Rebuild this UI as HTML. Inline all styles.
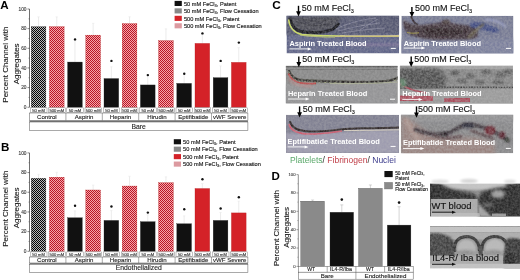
<!DOCTYPE html><html><head><meta charset="utf-8"><style>html,body{margin:0;padding:0;background:#fff;width:520px;height:280px;overflow:hidden}svg{display:block}#w{will-change:transform}</style></head><body>
<div id="w"><svg width="520" height="280" viewBox="0 0 520 280">
<defs>
<pattern id="hk" patternUnits="userSpaceOnUse" width="2" height="2"><rect width="2" height="2" fill="#b8b8b8"/><rect width="1" height="1" fill="#050505"/><rect x="1" y="1" width="1" height="1" fill="#050505"/></pattern>
<pattern id="hr" patternUnits="userSpaceOnUse" width="2" height="2"><rect width="2" height="2" fill="#f7a4a8"/><rect width="1" height="1" fill="#b81626"/><rect x="1" y="1" width="1" height="1" fill="#b81626"/></pattern>
<filter id="b05" x="-20%" y="-20%" width="140%" height="140%"><feGaussianBlur stdDeviation="0.5"/></filter>
<filter id="b07" x="-20%" y="-20%" width="140%" height="140%"><feGaussianBlur stdDeviation="0.7"/></filter>
<filter id="b1" x="-20%" y="-20%" width="140%" height="140%"><feGaussianBlur stdDeviation="1"/></filter>
<filter id="b15" x="-20%" y="-20%" width="140%" height="140%"><feGaussianBlur stdDeviation="1.5"/></filter>
<filter id="b2" x="-20%" y="-50%" width="140%" height="200%"><feGaussianBlur stdDeviation="2"/></filter>
<filter id="noise" x="0" y="0" width="100%" height="100%"><feTurbulence type="fractalNoise" baseFrequency="0.45" numOctaves="2" seed="3"/><feColorMatrix type="matrix" values="0 0 0 0 0.5  0 0 0 0 0.5  0 0 0 0 0.5  2 0 0 0 -0.5"/></filter>
</defs>
<rect width="520" height="280" fill="#fff"/>
<text x="0.3" y="8.9" font-size="11.6" font-weight="bold" font-family="Liberation Sans, sans-serif">A</text>
<text transform="translate(8.4,64.65) rotate(-90)" text-anchor="middle" font-size="8" fill="#1a1a1a" font-family="Liberation Sans, sans-serif" stroke="#1a1a1a" stroke-width="0.12">Percent Channel with</text>
<text transform="translate(18.7,63.85) rotate(-90)" text-anchor="middle" font-size="8" fill="#1a1a1a" font-family="Liberation Sans, sans-serif" stroke="#1a1a1a" stroke-width="0.12">Aggregates</text>
<line x1="29.5" y1="9.0" x2="29.5" y2="107.25" stroke="#333" stroke-width="0.7"/>
<line x1="27.5" y1="107.25" x2="29.5" y2="107.25" stroke="#333" stroke-width="0.6"/>
<text x="26.5" y="108.85" text-anchor="end" font-size="4.8" fill="#3a3a3a" font-family="Liberation Sans, sans-serif" stroke="#3a3a3a" stroke-width="0.12">0</text>
<line x1="28.5" y1="97.42" x2="29.5" y2="97.42" stroke="#444" stroke-width="0.5"/>
<line x1="27.5" y1="87.60" x2="29.5" y2="87.60" stroke="#333" stroke-width="0.6"/>
<text x="26.5" y="89.20" text-anchor="end" font-size="4.8" fill="#3a3a3a" font-family="Liberation Sans, sans-serif" stroke="#3a3a3a" stroke-width="0.12">20</text>
<line x1="28.5" y1="77.78" x2="29.5" y2="77.78" stroke="#444" stroke-width="0.5"/>
<line x1="27.5" y1="67.95" x2="29.5" y2="67.95" stroke="#333" stroke-width="0.6"/>
<text x="26.5" y="69.55" text-anchor="end" font-size="4.8" fill="#3a3a3a" font-family="Liberation Sans, sans-serif" stroke="#3a3a3a" stroke-width="0.12">40</text>
<line x1="28.5" y1="58.12" x2="29.5" y2="58.12" stroke="#444" stroke-width="0.5"/>
<line x1="27.5" y1="48.30" x2="29.5" y2="48.30" stroke="#333" stroke-width="0.6"/>
<text x="26.5" y="49.90" text-anchor="end" font-size="4.8" fill="#3a3a3a" font-family="Liberation Sans, sans-serif" stroke="#3a3a3a" stroke-width="0.12">60</text>
<line x1="28.5" y1="38.47" x2="29.5" y2="38.47" stroke="#444" stroke-width="0.5"/>
<line x1="27.5" y1="28.65" x2="29.5" y2="28.65" stroke="#333" stroke-width="0.6"/>
<text x="26.5" y="30.25" text-anchor="end" font-size="4.8" fill="#3a3a3a" font-family="Liberation Sans, sans-serif" stroke="#3a3a3a" stroke-width="0.12">80</text>
<line x1="28.5" y1="18.83" x2="29.5" y2="18.83" stroke="#444" stroke-width="0.5"/>
<line x1="27.5" y1="9.00" x2="29.5" y2="9.00" stroke="#333" stroke-width="0.6"/>
<text x="26.5" y="10.60" text-anchor="end" font-size="4.8" fill="#3a3a3a" font-family="Liberation Sans, sans-serif" stroke="#3a3a3a" stroke-width="0.12">100</text>
<line x1="38.55" y1="16.86" x2="38.55" y2="26.69" stroke="#d8d8d8" stroke-width="0.5"/>
<line x1="37.35" y1="16.86" x2="39.75" y2="16.86" stroke="#e4e4e4" stroke-width="0.5"/>
<rect x="31.20" y="26.69" width="14.7" height="80.56" fill="url(#hk)" stroke="#222" stroke-width="0.3"/>
<line x1="56.75" y1="16.86" x2="56.75" y2="26.69" stroke="#d8d8d8" stroke-width="0.5"/>
<line x1="55.55" y1="16.86" x2="57.95" y2="16.86" stroke="#e4e4e4" stroke-width="0.5"/>
<rect x="49.40" y="26.69" width="14.7" height="80.56" fill="url(#hr)" stroke="#b01818" stroke-width="0.3"/>
<line x1="74.95" y1="40.44" x2="74.95" y2="62.05" stroke="#d8d8d8" stroke-width="0.5"/>
<line x1="73.75" y1="40.44" x2="76.15" y2="40.44" stroke="#e4e4e4" stroke-width="0.5"/>
<rect x="67.60" y="62.05" width="14.7" height="45.20" fill="#111" stroke="#222" stroke-width="0.3"/>
<circle cx="75.05" cy="39.40" r="1.2" fill="#111"/>
<line x1="93.15" y1="23.34" x2="93.15" y2="35.13" stroke="#d8d8d8" stroke-width="0.5"/>
<line x1="91.95" y1="23.34" x2="94.35" y2="23.34" stroke="#e4e4e4" stroke-width="0.5"/>
<rect x="85.80" y="35.13" width="14.7" height="72.12" fill="url(#hr)" stroke="#b01818" stroke-width="0.3"/>
<line x1="111.35" y1="66.77" x2="111.35" y2="78.56" stroke="#d8d8d8" stroke-width="0.5"/>
<line x1="110.15" y1="66.77" x2="112.55" y2="66.77" stroke="#e4e4e4" stroke-width="0.5"/>
<rect x="104.00" y="78.56" width="14.7" height="28.69" fill="#111" stroke="#222" stroke-width="0.3"/>
<circle cx="111.45" cy="60.90" r="1.2" fill="#111"/>
<line x1="129.55" y1="16.76" x2="129.55" y2="23.64" stroke="#d8d8d8" stroke-width="0.5"/>
<line x1="128.35" y1="16.76" x2="130.75" y2="16.76" stroke="#e4e4e4" stroke-width="0.5"/>
<rect x="122.20" y="23.64" width="14.7" height="83.61" fill="url(#hr)" stroke="#b01818" stroke-width="0.3"/>
<line x1="147.75" y1="75.12" x2="147.75" y2="84.95" stroke="#d8d8d8" stroke-width="0.5"/>
<line x1="146.55" y1="75.12" x2="148.95" y2="75.12" stroke="#e4e4e4" stroke-width="0.5"/>
<rect x="140.40" y="84.95" width="14.7" height="22.30" fill="#111" stroke="#222" stroke-width="0.3"/>
<circle cx="147.85" cy="75.10" r="1.2" fill="#111"/>
<line x1="165.95" y1="28.85" x2="165.95" y2="40.64" stroke="#d8d8d8" stroke-width="0.5"/>
<line x1="164.75" y1="28.85" x2="167.15" y2="28.85" stroke="#e4e4e4" stroke-width="0.5"/>
<rect x="158.60" y="40.64" width="14.7" height="66.61" fill="url(#hr)" stroke="#b01818" stroke-width="0.3"/>
<line x1="184.15" y1="74.53" x2="184.15" y2="83.38" stroke="#d8d8d8" stroke-width="0.5"/>
<line x1="182.95" y1="74.53" x2="185.35" y2="74.53" stroke="#e4e4e4" stroke-width="0.5"/>
<rect x="176.80" y="83.38" width="14.7" height="23.87" fill="#111" stroke="#222" stroke-width="0.3"/>
<circle cx="184.25" cy="73.70" r="1.2" fill="#111"/>
<line x1="202.35" y1="33.56" x2="202.35" y2="43.39" stroke="#d8d8d8" stroke-width="0.5"/>
<line x1="201.15" y1="33.56" x2="203.55" y2="33.56" stroke="#e4e4e4" stroke-width="0.5"/>
<rect x="195.00" y="43.39" width="14.7" height="63.86" fill="#d42228" stroke="#b01818" stroke-width="0.3"/>
<circle cx="202.45" cy="33.40" r="1.2" fill="#111"/>
<line x1="220.55" y1="65.89" x2="220.55" y2="77.68" stroke="#d8d8d8" stroke-width="0.5"/>
<line x1="219.35" y1="65.89" x2="221.75" y2="65.89" stroke="#e4e4e4" stroke-width="0.5"/>
<rect x="213.20" y="77.68" width="14.7" height="29.57" fill="#111" stroke="#222" stroke-width="0.3"/>
<circle cx="220.65" cy="60.90" r="1.2" fill="#111"/>
<line x1="238.75" y1="47.61" x2="238.75" y2="62.35" stroke="#d8d8d8" stroke-width="0.5"/>
<line x1="237.55" y1="47.61" x2="239.95" y2="47.61" stroke="#e4e4e4" stroke-width="0.5"/>
<rect x="231.40" y="62.35" width="14.7" height="44.90" fill="#d42228" stroke="#b01818" stroke-width="0.3"/>
<circle cx="238.85" cy="42.60" r="1.2" fill="#111"/>
<rect x="30.40" y="107.85" width="16.60" height="4.75" fill="#fff" stroke="#666" stroke-width="0.4"/>
<text x="38.60" y="111.55" text-anchor="middle" font-size="4.1" fill="#333" font-family="Liberation Sans, sans-serif" stroke="#333" stroke-width="0.12">50 mM</text>
<rect x="48.60" y="107.85" width="16.60" height="4.75" fill="#fff" stroke="#666" stroke-width="0.4"/>
<text x="56.80" y="111.55" text-anchor="middle" font-size="4.1" fill="#333" font-family="Liberation Sans, sans-serif" stroke="#333" stroke-width="0.12">500 mM</text>
<rect x="66.80" y="107.85" width="16.60" height="4.75" fill="#fff" stroke="#666" stroke-width="0.4"/>
<text x="75.00" y="111.55" text-anchor="middle" font-size="4.1" fill="#333" font-family="Liberation Sans, sans-serif" stroke="#333" stroke-width="0.12">50 mM</text>
<rect x="85.00" y="107.85" width="16.60" height="4.75" fill="#fff" stroke="#666" stroke-width="0.4"/>
<text x="93.20" y="111.55" text-anchor="middle" font-size="4.1" fill="#333" font-family="Liberation Sans, sans-serif" stroke="#333" stroke-width="0.12">500 mM</text>
<rect x="103.20" y="107.85" width="16.60" height="4.75" fill="#fff" stroke="#666" stroke-width="0.4"/>
<text x="111.40" y="111.55" text-anchor="middle" font-size="4.1" fill="#333" font-family="Liberation Sans, sans-serif" stroke="#333" stroke-width="0.12">50 mM</text>
<rect x="121.40" y="107.85" width="16.60" height="4.75" fill="#fff" stroke="#666" stroke-width="0.4"/>
<text x="129.60" y="111.55" text-anchor="middle" font-size="4.1" fill="#333" font-family="Liberation Sans, sans-serif" stroke="#333" stroke-width="0.12">500 mM</text>
<rect x="139.60" y="107.85" width="16.60" height="4.75" fill="#fff" stroke="#666" stroke-width="0.4"/>
<text x="147.80" y="111.55" text-anchor="middle" font-size="4.1" fill="#333" font-family="Liberation Sans, sans-serif" stroke="#333" stroke-width="0.12">50 mM</text>
<rect x="157.80" y="107.85" width="16.60" height="4.75" fill="#fff" stroke="#666" stroke-width="0.4"/>
<text x="166.00" y="111.55" text-anchor="middle" font-size="4.1" fill="#333" font-family="Liberation Sans, sans-serif" stroke="#333" stroke-width="0.12">500 mM</text>
<rect x="176.00" y="107.85" width="16.60" height="4.75" fill="#fff" stroke="#666" stroke-width="0.4"/>
<text x="184.20" y="111.55" text-anchor="middle" font-size="4.1" fill="#333" font-family="Liberation Sans, sans-serif" stroke="#333" stroke-width="0.12">50 mM</text>
<rect x="194.20" y="107.85" width="16.60" height="4.75" fill="#fff" stroke="#666" stroke-width="0.4"/>
<text x="202.40" y="111.55" text-anchor="middle" font-size="4.1" fill="#333" font-family="Liberation Sans, sans-serif" stroke="#333" stroke-width="0.12">500 mM</text>
<rect x="212.40" y="107.85" width="16.60" height="4.75" fill="#fff" stroke="#666" stroke-width="0.4"/>
<text x="220.60" y="111.55" text-anchor="middle" font-size="4.1" fill="#333" font-family="Liberation Sans, sans-serif" stroke="#333" stroke-width="0.12">50 mM</text>
<rect x="230.60" y="107.85" width="16.60" height="4.75" fill="#fff" stroke="#666" stroke-width="0.4"/>
<text x="238.80" y="111.55" text-anchor="middle" font-size="4.1" fill="#333" font-family="Liberation Sans, sans-serif" stroke="#333" stroke-width="0.12">500 mM</text>
<rect x="29.5" y="113.0" width="218.40" height="7.60" fill="#fff" stroke="#555" stroke-width="0.5"/>
<text x="46.90" y="118.9" text-anchor="middle" font-size="6.1" fill="#1e1e1e" font-family="Liberation Sans, sans-serif" stroke="#1e1e1e" stroke-width="0.12">Control</text>
<line x1="65.90" y1="113.0" x2="65.90" y2="120.6" stroke="#555" stroke-width="0.5"/>
<text x="84.10" y="118.9" text-anchor="middle" font-size="6.1" fill="#1e1e1e" font-family="Liberation Sans, sans-serif" stroke="#1e1e1e" stroke-width="0.12">Aspirin</text>
<line x1="102.30" y1="113.0" x2="102.30" y2="120.6" stroke="#555" stroke-width="0.5"/>
<text x="120.50" y="118.9" text-anchor="middle" font-size="6.1" fill="#1e1e1e" font-family="Liberation Sans, sans-serif" stroke="#1e1e1e" stroke-width="0.12">Heparin</text>
<line x1="138.70" y1="113.0" x2="138.70" y2="120.6" stroke="#555" stroke-width="0.5"/>
<text x="156.90" y="118.9" text-anchor="middle" font-size="6.1" fill="#1e1e1e" font-family="Liberation Sans, sans-serif" stroke="#1e1e1e" stroke-width="0.12">Hirudin</text>
<line x1="175.10" y1="113.0" x2="175.10" y2="120.6" stroke="#555" stroke-width="0.5"/>
<text x="193.30" y="118.9" text-anchor="middle" font-size="6.1" fill="#1e1e1e" font-family="Liberation Sans, sans-serif" stroke="#1e1e1e" stroke-width="0.12">Eptifibatide</text>
<line x1="211.50" y1="113.0" x2="211.50" y2="120.6" stroke="#555" stroke-width="0.5"/>
<text x="229.70" y="118.9" text-anchor="middle" font-size="6.1" fill="#1e1e1e" font-family="Liberation Sans, sans-serif" stroke="#1e1e1e" stroke-width="0.12">vWF Severe</text>
<rect x="29.5" y="120.6" width="218.40" height="1.40" fill="#7a7a7a"/>
<rect x="29.5" y="122.0" width="218.40" height="8.40" fill="#fff" stroke="#555" stroke-width="0.5"/>
<text x="138.70" y="128.6" text-anchor="middle" font-size="6.8" fill="#1e1e1e" font-family="Liberation Sans, sans-serif" stroke="#1e1e1e" stroke-width="0.12">Bare</text>
<rect x="174.6" y="0.90" width="7.2" height="5.1" fill="#111"/>
<text x="183.90" y="5.70" font-size="5.65" fill="#1a1a1a" stroke="#1a1a1a" stroke-width="0.15" font-family="Liberation Sans, sans-serif">50 mM FeCl<tspan font-size="4" dy="1">3</tspan><tspan dy="-1">, Patent</tspan></text>
<rect x="174.6" y="8.35" width="7.2" height="5.1" fill="#888"/>
<text x="183.90" y="13.15" font-size="5.65" fill="#1a1a1a" stroke="#1a1a1a" stroke-width="0.15" font-family="Liberation Sans, sans-serif">50 mM FeCl<tspan font-size="4" dy="1">3</tspan><tspan dy="-1">, Flow Cessation</tspan></text>
<rect x="174.6" y="15.80" width="7.2" height="5.1" fill="#d42228"/>
<text x="183.90" y="20.60" font-size="5.65" fill="#1a1a1a" stroke="#1a1a1a" stroke-width="0.15" font-family="Liberation Sans, sans-serif">500 mM FeCl<tspan font-size="4" dy="1">3</tspan><tspan dy="-1">, Patent</tspan></text>
<rect x="174.6" y="23.25" width="7.2" height="5.1" fill="#dc9aa0"/>
<text x="183.90" y="28.05" font-size="5.65" fill="#1a1a1a" stroke="#1a1a1a" stroke-width="0.15" font-family="Liberation Sans, sans-serif">500 mM FeCl<tspan font-size="4" dy="1">3</tspan><tspan dy="-1">, Flow Cessation</tspan></text>
<text x="0.9" y="151.4" font-size="11.6" font-weight="bold" font-family="Liberation Sans, sans-serif">B</text>
<text transform="translate(8.4,208.70) rotate(-90)" text-anchor="middle" font-size="8" fill="#1a1a1a" font-family="Liberation Sans, sans-serif" stroke="#1a1a1a" stroke-width="0.12">Percent Channel with</text>
<text transform="translate(18.7,207.90) rotate(-90)" text-anchor="middle" font-size="8" fill="#1a1a1a" font-family="Liberation Sans, sans-serif" stroke="#1a1a1a" stroke-width="0.12">Aggregates</text>
<line x1="29.5" y1="152.9" x2="29.5" y2="251.3" stroke="#333" stroke-width="0.7"/>
<line x1="27.5" y1="251.30" x2="29.5" y2="251.30" stroke="#333" stroke-width="0.6"/>
<text x="26.5" y="252.90" text-anchor="end" font-size="4.8" fill="#3a3a3a" font-family="Liberation Sans, sans-serif" stroke="#3a3a3a" stroke-width="0.12">0</text>
<line x1="28.5" y1="241.46" x2="29.5" y2="241.46" stroke="#444" stroke-width="0.5"/>
<line x1="27.5" y1="231.62" x2="29.5" y2="231.62" stroke="#333" stroke-width="0.6"/>
<text x="26.5" y="233.22" text-anchor="end" font-size="4.8" fill="#3a3a3a" font-family="Liberation Sans, sans-serif" stroke="#3a3a3a" stroke-width="0.12">20</text>
<line x1="28.5" y1="221.78" x2="29.5" y2="221.78" stroke="#444" stroke-width="0.5"/>
<line x1="27.5" y1="211.94" x2="29.5" y2="211.94" stroke="#333" stroke-width="0.6"/>
<text x="26.5" y="213.54" text-anchor="end" font-size="4.8" fill="#3a3a3a" font-family="Liberation Sans, sans-serif" stroke="#3a3a3a" stroke-width="0.12">40</text>
<line x1="28.5" y1="202.10" x2="29.5" y2="202.10" stroke="#444" stroke-width="0.5"/>
<line x1="27.5" y1="192.26" x2="29.5" y2="192.26" stroke="#333" stroke-width="0.6"/>
<text x="26.5" y="193.86" text-anchor="end" font-size="4.8" fill="#3a3a3a" font-family="Liberation Sans, sans-serif" stroke="#3a3a3a" stroke-width="0.12">60</text>
<line x1="28.5" y1="182.42" x2="29.5" y2="182.42" stroke="#444" stroke-width="0.5"/>
<line x1="27.5" y1="172.58" x2="29.5" y2="172.58" stroke="#333" stroke-width="0.6"/>
<text x="26.5" y="174.18" text-anchor="end" font-size="4.8" fill="#3a3a3a" font-family="Liberation Sans, sans-serif" stroke="#3a3a3a" stroke-width="0.12">80</text>
<line x1="28.5" y1="162.74" x2="29.5" y2="162.74" stroke="#444" stroke-width="0.5"/>
<line x1="27.5" y1="152.90" x2="29.5" y2="152.90" stroke="#333" stroke-width="0.6"/>
<text x="26.5" y="154.50" text-anchor="end" font-size="4.8" fill="#3a3a3a" font-family="Liberation Sans, sans-serif" stroke="#3a3a3a" stroke-width="0.12">100</text>
<line x1="38.55" y1="174.35" x2="38.55" y2="178.29" stroke="#d8d8d8" stroke-width="0.5"/>
<line x1="37.35" y1="174.35" x2="39.75" y2="174.35" stroke="#e4e4e4" stroke-width="0.5"/>
<rect x="31.20" y="178.29" width="14.7" height="73.01" fill="url(#hk)" stroke="#222" stroke-width="0.3"/>
<line x1="56.75" y1="172.28" x2="56.75" y2="177.20" stroke="#d8d8d8" stroke-width="0.5"/>
<line x1="55.55" y1="172.28" x2="57.95" y2="172.28" stroke="#e4e4e4" stroke-width="0.5"/>
<rect x="49.40" y="177.20" width="14.7" height="74.10" fill="url(#hr)" stroke="#b01818" stroke-width="0.3"/>
<line x1="74.95" y1="210.86" x2="74.95" y2="217.75" stroke="#d8d8d8" stroke-width="0.5"/>
<line x1="73.75" y1="210.86" x2="76.15" y2="210.86" stroke="#e4e4e4" stroke-width="0.5"/>
<rect x="67.60" y="217.75" width="14.7" height="33.55" fill="#111" stroke="#222" stroke-width="0.3"/>
<circle cx="75.05" cy="205.70" r="1.2" fill="#111"/>
<line x1="93.15" y1="185.08" x2="93.15" y2="190.00" stroke="#d8d8d8" stroke-width="0.5"/>
<line x1="91.95" y1="185.08" x2="94.35" y2="185.08" stroke="#e4e4e4" stroke-width="0.5"/>
<rect x="85.80" y="190.00" width="14.7" height="61.30" fill="url(#hr)" stroke="#b01818" stroke-width="0.3"/>
<line x1="111.35" y1="210.56" x2="111.35" y2="220.40" stroke="#d8d8d8" stroke-width="0.5"/>
<line x1="110.15" y1="210.56" x2="112.55" y2="210.56" stroke="#e4e4e4" stroke-width="0.5"/>
<rect x="104.00" y="220.40" width="14.7" height="30.90" fill="#111" stroke="#222" stroke-width="0.3"/>
<circle cx="111.45" cy="206.50" r="1.2" fill="#111"/>
<line x1="129.55" y1="176.22" x2="129.55" y2="186.06" stroke="#d8d8d8" stroke-width="0.5"/>
<line x1="128.35" y1="176.22" x2="130.75" y2="176.22" stroke="#e4e4e4" stroke-width="0.5"/>
<rect x="122.20" y="186.06" width="14.7" height="65.24" fill="url(#hr)" stroke="#b01818" stroke-width="0.3"/>
<line x1="147.75" y1="214.79" x2="147.75" y2="221.68" stroke="#d8d8d8" stroke-width="0.5"/>
<line x1="146.55" y1="214.79" x2="148.95" y2="214.79" stroke="#e4e4e4" stroke-width="0.5"/>
<rect x="140.40" y="221.68" width="14.7" height="29.62" fill="#111" stroke="#222" stroke-width="0.3"/>
<circle cx="147.85" cy="212.60" r="1.2" fill="#111"/>
<line x1="165.95" y1="176.81" x2="165.95" y2="182.72" stroke="#d8d8d8" stroke-width="0.5"/>
<line x1="164.75" y1="176.81" x2="167.15" y2="176.81" stroke="#e4e4e4" stroke-width="0.5"/>
<rect x="158.60" y="182.72" width="14.7" height="68.58" fill="url(#hr)" stroke="#b01818" stroke-width="0.3"/>
<line x1="184.15" y1="215.88" x2="184.15" y2="223.75" stroke="#d8d8d8" stroke-width="0.5"/>
<line x1="182.95" y1="215.88" x2="185.35" y2="215.88" stroke="#e4e4e4" stroke-width="0.5"/>
<rect x="176.80" y="223.75" width="14.7" height="27.55" fill="#111" stroke="#222" stroke-width="0.3"/>
<circle cx="184.25" cy="209.20" r="1.2" fill="#111"/>
<line x1="202.35" y1="183.60" x2="202.35" y2="188.52" stroke="#d8d8d8" stroke-width="0.5"/>
<line x1="201.15" y1="183.60" x2="203.55" y2="183.60" stroke="#e4e4e4" stroke-width="0.5"/>
<rect x="195.00" y="188.52" width="14.7" height="62.78" fill="#d42228" stroke="#b01818" stroke-width="0.3"/>
<circle cx="202.45" cy="179.30" r="1.2" fill="#111"/>
<line x1="220.55" y1="212.53" x2="220.55" y2="220.40" stroke="#d8d8d8" stroke-width="0.5"/>
<line x1="219.35" y1="212.53" x2="221.75" y2="212.53" stroke="#e4e4e4" stroke-width="0.5"/>
<rect x="213.20" y="220.40" width="14.7" height="30.90" fill="#111" stroke="#222" stroke-width="0.3"/>
<circle cx="220.65" cy="208.50" r="1.2" fill="#111"/>
<line x1="238.75" y1="201.12" x2="238.75" y2="212.92" stroke="#d8d8d8" stroke-width="0.5"/>
<line x1="237.55" y1="201.12" x2="239.95" y2="201.12" stroke="#e4e4e4" stroke-width="0.5"/>
<rect x="231.40" y="212.92" width="14.7" height="38.38" fill="#d42228" stroke="#b01818" stroke-width="0.3"/>
<circle cx="238.85" cy="197.30" r="1.2" fill="#111"/>
<rect x="30.40" y="251.90" width="16.60" height="4.70" fill="#fff" stroke="#666" stroke-width="0.4"/>
<text x="38.60" y="255.55" text-anchor="middle" font-size="4.1" fill="#333" font-family="Liberation Sans, sans-serif" stroke="#333" stroke-width="0.12">50 mM</text>
<rect x="48.60" y="251.90" width="16.60" height="4.70" fill="#fff" stroke="#666" stroke-width="0.4"/>
<text x="56.80" y="255.55" text-anchor="middle" font-size="4.1" fill="#333" font-family="Liberation Sans, sans-serif" stroke="#333" stroke-width="0.12">500 mM</text>
<rect x="66.80" y="251.90" width="16.60" height="4.70" fill="#fff" stroke="#666" stroke-width="0.4"/>
<text x="75.00" y="255.55" text-anchor="middle" font-size="4.1" fill="#333" font-family="Liberation Sans, sans-serif" stroke="#333" stroke-width="0.12">50 mM</text>
<rect x="85.00" y="251.90" width="16.60" height="4.70" fill="#fff" stroke="#666" stroke-width="0.4"/>
<text x="93.20" y="255.55" text-anchor="middle" font-size="4.1" fill="#333" font-family="Liberation Sans, sans-serif" stroke="#333" stroke-width="0.12">500 mM</text>
<rect x="103.20" y="251.90" width="16.60" height="4.70" fill="#fff" stroke="#666" stroke-width="0.4"/>
<text x="111.40" y="255.55" text-anchor="middle" font-size="4.1" fill="#333" font-family="Liberation Sans, sans-serif" stroke="#333" stroke-width="0.12">50 mM</text>
<rect x="121.40" y="251.90" width="16.60" height="4.70" fill="#fff" stroke="#666" stroke-width="0.4"/>
<text x="129.60" y="255.55" text-anchor="middle" font-size="4.1" fill="#333" font-family="Liberation Sans, sans-serif" stroke="#333" stroke-width="0.12">500 mM</text>
<rect x="139.60" y="251.90" width="16.60" height="4.70" fill="#fff" stroke="#666" stroke-width="0.4"/>
<text x="147.80" y="255.55" text-anchor="middle" font-size="4.1" fill="#333" font-family="Liberation Sans, sans-serif" stroke="#333" stroke-width="0.12">50 mM</text>
<rect x="157.80" y="251.90" width="16.60" height="4.70" fill="#fff" stroke="#666" stroke-width="0.4"/>
<text x="166.00" y="255.55" text-anchor="middle" font-size="4.1" fill="#333" font-family="Liberation Sans, sans-serif" stroke="#333" stroke-width="0.12">500 mM</text>
<rect x="176.00" y="251.90" width="16.60" height="4.70" fill="#fff" stroke="#666" stroke-width="0.4"/>
<text x="184.20" y="255.55" text-anchor="middle" font-size="4.1" fill="#333" font-family="Liberation Sans, sans-serif" stroke="#333" stroke-width="0.12">50 mM</text>
<rect x="194.20" y="251.90" width="16.60" height="4.70" fill="#fff" stroke="#666" stroke-width="0.4"/>
<text x="202.40" y="255.55" text-anchor="middle" font-size="4.1" fill="#333" font-family="Liberation Sans, sans-serif" stroke="#333" stroke-width="0.12">500 mM</text>
<rect x="212.40" y="251.90" width="16.60" height="4.70" fill="#fff" stroke="#666" stroke-width="0.4"/>
<text x="220.60" y="255.55" text-anchor="middle" font-size="4.1" fill="#333" font-family="Liberation Sans, sans-serif" stroke="#333" stroke-width="0.12">50 mM</text>
<rect x="230.60" y="251.90" width="16.60" height="4.70" fill="#fff" stroke="#666" stroke-width="0.4"/>
<text x="238.80" y="255.55" text-anchor="middle" font-size="4.1" fill="#333" font-family="Liberation Sans, sans-serif" stroke="#333" stroke-width="0.12">500 mM</text>
<rect x="29.5" y="257.0" width="218.40" height="6.00" fill="#fff" stroke="#555" stroke-width="0.5"/>
<text x="46.90" y="262.2" text-anchor="middle" font-size="6.1" fill="#1e1e1e" font-family="Liberation Sans, sans-serif" stroke="#1e1e1e" stroke-width="0.12">Control</text>
<line x1="65.90" y1="257.0" x2="65.90" y2="263.0" stroke="#555" stroke-width="0.5"/>
<text x="84.10" y="262.2" text-anchor="middle" font-size="6.1" fill="#1e1e1e" font-family="Liberation Sans, sans-serif" stroke="#1e1e1e" stroke-width="0.12">Aspirin</text>
<line x1="102.30" y1="257.0" x2="102.30" y2="263.0" stroke="#555" stroke-width="0.5"/>
<text x="120.50" y="262.2" text-anchor="middle" font-size="6.1" fill="#1e1e1e" font-family="Liberation Sans, sans-serif" stroke="#1e1e1e" stroke-width="0.12">Heparin</text>
<line x1="138.70" y1="257.0" x2="138.70" y2="263.0" stroke="#555" stroke-width="0.5"/>
<text x="156.90" y="262.2" text-anchor="middle" font-size="6.1" fill="#1e1e1e" font-family="Liberation Sans, sans-serif" stroke="#1e1e1e" stroke-width="0.12">Hirudin</text>
<line x1="175.10" y1="257.0" x2="175.10" y2="263.0" stroke="#555" stroke-width="0.5"/>
<text x="193.30" y="262.2" text-anchor="middle" font-size="6.1" fill="#1e1e1e" font-family="Liberation Sans, sans-serif" stroke="#1e1e1e" stroke-width="0.12">Eptifibatide</text>
<line x1="211.50" y1="257.0" x2="211.50" y2="263.0" stroke="#555" stroke-width="0.5"/>
<text x="229.70" y="262.2" text-anchor="middle" font-size="6.1" fill="#1e1e1e" font-family="Liberation Sans, sans-serif" stroke="#1e1e1e" stroke-width="0.12">vWF Severe</text>
<rect x="29.5" y="263.0" width="218.40" height="1.40" fill="#7a7a7a"/>
<rect x="29.5" y="264.4" width="218.40" height="7.90" fill="#fff" stroke="#555" stroke-width="0.5"/>
<text x="138.70" y="270.2" text-anchor="middle" font-size="6.8" fill="#1e1e1e" font-family="Liberation Sans, sans-serif" stroke="#1e1e1e" stroke-width="0.12">Endothelialized</text>
<rect x="173.8" y="139.20" width="7.2" height="5.1" fill="#111"/>
<text x="183.10" y="144.00" font-size="5.65" fill="#1a1a1a" stroke="#1a1a1a" stroke-width="0.15" font-family="Liberation Sans, sans-serif">50 mM FeCl<tspan font-size="4" dy="1">3</tspan><tspan dy="-1">, Patent</tspan></text>
<rect x="173.8" y="146.65" width="7.2" height="5.1" fill="#888"/>
<text x="183.10" y="151.45" font-size="5.65" fill="#1a1a1a" stroke="#1a1a1a" stroke-width="0.15" font-family="Liberation Sans, sans-serif">50 mM FeCl<tspan font-size="4" dy="1">3</tspan><tspan dy="-1">, Flow Cessation</tspan></text>
<rect x="173.8" y="154.10" width="7.2" height="5.1" fill="#d42228"/>
<text x="183.10" y="158.90" font-size="5.65" fill="#1a1a1a" stroke="#1a1a1a" stroke-width="0.15" font-family="Liberation Sans, sans-serif">500 mM FeCl<tspan font-size="4" dy="1">3</tspan><tspan dy="-1">, Patent</tspan></text>
<rect x="173.8" y="161.55" width="7.2" height="5.1" fill="#dc9aa0"/>
<text x="183.10" y="166.35" font-size="5.65" fill="#1a1a1a" stroke="#1a1a1a" stroke-width="0.15" font-family="Liberation Sans, sans-serif">500 mM FeCl<tspan font-size="4" dy="1">3</tspan><tspan dy="-1">, Flow Cessation</tspan></text>
<text x="272.2" y="9.2" font-size="11.8" font-weight="bold" font-family="Liberation Sans, sans-serif">C</text>
<clipPath id="c1l"><rect x="286.5" y="15.8" width="112.60" height="37.60"/></clipPath>
<g clip-path="url(#c1l)">
<rect x="286.5" y="15.8" width="112.60000000000002" height="37.599999999999994" fill="#5e6388"/>
<path d="M283.5,12.8 L402.1,12.8 L402.1,34 C370,34.5 340,35 320,35 L283.5,35 Z" fill="#535770" filter="url(#b1)"/>
<path d="M290,17 C291,24 294,29 301,31 C311,32.5 324,32 332,29 C337,26 340,21 341,16 Z" fill="#4a4a52" filter="url(#b15)"/>
<path d="M289.8,17.5 C290.8,24 294,29.5 301,31.6 C311,33 324,32.6 332,29.6 C335,28 337,26 339,23" fill="none" stroke="#16161c" stroke-width="3" filter="url(#b07)"/>
<path d="M296,21 C305,26 318,27 330,23 M300,18 C310,22 320,22 332,19" fill="none" stroke="#3a3a42" stroke-width="1" filter="url(#b05)"/>
<path d="M336,29 C346,24 358,20 376,18 M338,31 C350,28 362,25 380,23 M342,33 C355,31 368,29 385,28 M360,30 C366,26 372,22 378,19" fill="none" stroke="#8c8ca4" stroke-width="0.7" filter="url(#b05)"/>
<path d="M288.6,19.5 C289.4,27 293.5,32.8 302,34.6 C315,36.2 330,36 345,36" fill="none" stroke="#cede62" stroke-width="1.5" filter="url(#b05)"/>
<path d="M335,36.2 C360,36.4 380,36.4 400,36.2" fill="none" stroke="#ccc272" stroke-width="2.6" filter="url(#b07)"/>
<path d="M340,35.8 C360,36 380,36 400,35.6" fill="none" stroke="#d8cc8c" stroke-width="1.2" filter="url(#b05)"/>
<path d="M300,35 C310,36.5 325,37 335,37" fill="none" stroke="#b8c070" stroke-width="1.2" filter="url(#b07)"/>
<rect x="345" y="43.4" width="55" height="2.5" fill="#8a7aa0" opacity="0.7" filter="url(#b1)"/>
<rect x="286.5" y="15.8" width="112.60000000000002" height="37.599999999999994" filter="url(#noise)" opacity="0.3"/>
<text x="289.4" y="45.6" font-size="7.45" font-weight="bold" fill="#fff" font-family="Liberation Sans, sans-serif">Aspirin Treated Blood</text>
<line x1="289.4" y1="48.9" x2="308.8" y2="48.9" stroke="#fff" stroke-width="0.9"/>
<path d="M307.8,47.4 L311.8,48.9 L307.8,50.4 Z" fill="#fff"/>
<line x1="390.8" y1="48.4" x2="395.8" y2="48.4" stroke="#fff" stroke-width="1"/>
</g>
<clipPath id="c1r"><rect x="401.4" y="15.8" width="112.00" height="37.60"/></clipPath>
<g clip-path="url(#c1r)">
<rect x="401.4" y="15.8" width="112.0" height="37.599999999999994" fill="#767a94"/>
<rect x="398.4" y="39.4" width="118.0" height="16" fill="#7c809e" filter="url(#b2)"/>
<path d="M403,20 C408,23 414,25 422,25 C432,24 440,22 447,22 C455,24 465,25 472,26 C478,28 480,34 476,38 C468,40 455,39.5 442,40 C430,40 418,38 410,35 C405,32 403,27 403,20 Z" fill="#43363e" filter="url(#b1)"/>
<path d="M420,29 C435,27 452,28 468,31 C462,36 442,37 428,35 Z" fill="#2e2426" filter="url(#b1)"/>
<ellipse cx="446" cy="22" rx="4" ry="2.5" fill="#4a3c3c" filter="url(#b1)"/>
<path d="M411,16 C412,20 414,23 418,25" stroke="#3a3038" stroke-width="2" fill="none" filter="url(#b07)"/>
<path d="M470,23 C478,21 488,24 498,29 C501,32 497,34 490,32 C483,30 476,28 470,27 Z" fill="#3c4882" filter="url(#b1)"/>
<path d="M485,20 C492,19 500,22 506,27" stroke="#9aa0c8" stroke-width="2" fill="none" filter="url(#b1)"/>
<path d="M468,38 C473,33 478,28 484,24" stroke="#6e6650" stroke-width="2.4" fill="none" filter="url(#b1)"/>
<path d="M407,32.5 C411,33.5 415,33.2 419,32.8" stroke="#a09848" stroke-width="1" fill="none" filter="url(#b05)"/>
<rect x="401.4" y="15.8" width="112.0" height="37.599999999999994" filter="url(#noise)" opacity="0.35"/>
<text x="403.7" y="45.6" font-size="7.45" font-weight="bold" fill="#fff" font-family="Liberation Sans, sans-serif">Aspirin Treated Blood</text>
<line x1="403.7" y1="48.1" x2="422.4" y2="48.1" stroke="#fff" stroke-width="0.9"/>
<path d="M421.4,46.6 L425.4,48.1 L421.4,49.6 Z" fill="#fff"/>
<line x1="506" y1="48.4" x2="511" y2="48.4" stroke="#fff" stroke-width="1"/>
</g>
<clipPath id="c2l"><rect x="285.7" y="65.7" width="112.00" height="37.90"/></clipPath>
<g clip-path="url(#c2l)">
<rect x="285.7" y="65.7" width="112.0" height="37.89999999999999" fill="#898989"/>
<rect x="285.7" y="65.7" width="112.0" height="1.6" fill="#5a5a5a"/>
<path d="M285.7,84 C320,84 360,84.5 397.7,80 L397.7,103.6 L285.7,103.6 Z" fill="#949496" filter="url(#b1)"/>
<rect x="285.7" y="69" width="112.0" height="0.8" fill="#6e6e6e" filter="url(#b05)"/>
<path d="M288.8,70.2 C290,74 293,78 298,79.8 C305,81 320,81 335,81.6 C355,82.4 375,82.2 386,81.2 C392,80.4 396,79 399,77.2" fill="none" stroke="#5a5a52" stroke-width="3" filter="url(#b05)"/>
<path d="M288.8,70.2 C290,74 293,78 298,79.8 C305,81 320,81 335,81.6 C355,82.4 375,82.2 386,81.2 C392,80.4 396,79 399,77.2" fill="none" stroke="#262424" stroke-width="1.8" stroke-dasharray="4 1.5 2 2" filter="url(#b05)"/>
<path d="M288.8,70.2 C290,74 293,78 298,79.8 C305,81 320,81 335,81.6 C355,82.4 375,82.2 386,81.2 C392,80.4 396,79 399,77.2" transform="translate(0,1.2)" fill="none" stroke="#a4aa80" stroke-width="0.9" stroke-dasharray="2 3 1 4" filter="url(#b05)"/>
<path d="M330,83.3 C350,84 370,84 398,82" fill="none" stroke="#a8ac94" stroke-width="1.2" filter="url(#b07)"/>
<path d="M288.5,73.5 C290,78 294,81.5 300,83 C305,83.8 310,83.8 316,83.4" fill="none" stroke="#bc4646" stroke-width="1.8" filter="url(#b05)"/>
<path d="M289,78 C292,84 298,86 312,86.5" fill="none" stroke="#b48c8c" stroke-width="2" filter="url(#b1)"/>
<rect x="285.7" y="65.7" width="112.0" height="37.89999999999999" filter="url(#noise)" opacity="0.3"/>
<text x="287.9" y="95.8" font-size="7.45" font-weight="bold" fill="#fff" font-family="Liberation Sans, sans-serif">Heparin Treated Blood</text>
<line x1="287.9" y1="99.0" x2="306.6" y2="99.0" stroke="#fff" stroke-width="0.9"/>
<path d="M305.6,97.5 L309.6,99.0 L305.6,100.5 Z" fill="#fff"/>
<line x1="390" y1="99.2" x2="395" y2="99.2" stroke="#fff" stroke-width="1"/>
</g>
<clipPath id="c2r"><rect x="399.9" y="65.7" width="113.10" height="37.90"/></clipPath>
<g clip-path="url(#c2r)">
<rect x="399.9" y="65.7" width="113.10000000000002" height="37.89999999999999" fill="#858585"/>
<rect x="396.9" y="63.7" width="119.10000000000002" height="5.5" fill="#a2a2a2" filter="url(#b07)"/>
<path d="M397.9,68 L438,68 C446,74 448,82 444,88 L397.9,90 Z" fill="#4e4e4e" filter="url(#b2)"/>
<ellipse cx="455" cy="73" rx="5" ry="2.5" fill="#5a5a5a" filter="url(#b1)"/>
<ellipse cx="470" cy="76" rx="4" ry="2.5" fill="#5a5a5a" filter="url(#b1)"/>
<ellipse cx="486" cy="72" rx="5" ry="2.5" fill="#5a5a5a" filter="url(#b1)"/>
<ellipse cx="500" cy="75" rx="5" ry="3" fill="#5a5a5a" filter="url(#b1)"/>
<ellipse cx="462" cy="81" rx="6" ry="2" fill="#5a5a5a" filter="url(#b1)"/>
<ellipse cx="480" cy="82" rx="5" ry="2" fill="#5a5a5a" filter="url(#b1)"/>
<ellipse cx="498" cy="82" rx="6" ry="2" fill="#5a5a5a" filter="url(#b1)"/>
<ellipse cx="508" cy="72" rx="4" ry="3" fill="#5a5a5a" filter="url(#b1)"/>
<rect x="394.9" y="89.1" width="123.10000000000002" height="16" fill="#9a9a9a" filter="url(#b07)"/>
<path d="M420,87 C450,87.5 480,87 513.0,87.5" stroke="#3e3e3e" stroke-width="1.4" stroke-dasharray="1.6 1.1" fill="none" filter="url(#b05)"/>
<path d="M513.0,98.6 L468,98.6" stroke="#cfcfcf" stroke-width="0.9" fill="none" filter="url(#b05)"/>
<path d="M399.9,84 C406,88 414,91 426,93" stroke="#a84656" stroke-width="1.6" fill="none" filter="url(#b05)"/>
<path d="M399.9,95.5 L433,96 L433,101 L399.9,101 Z" fill="#ac4858" filter="url(#b07)"/>
<path d="M444,98 L470,98 L470,102 L444,102 Z" fill="#a84a58" filter="url(#b07)"/>
<path d="M399.9,78 L406,80 L406,87 L399.9,87 Z" fill="#62846a" filter="url(#b1)"/>
<rect x="399.9" y="65.7" width="113.10000000000002" height="37.89999999999999" filter="url(#noise)" opacity="0.4"/>
<text x="402.3" y="96.1" font-size="7.45" font-weight="bold" fill="#fff" font-family="Liberation Sans, sans-serif">Heparin Treated Blood</text>
<line x1="402.3" y1="99.4" x2="419.6" y2="99.4" stroke="#fff" stroke-width="0.9"/>
<path d="M418.6,97.9 L422.6,99.4 L418.6,100.9 Z" fill="#fff"/>
</g>
<clipPath id="c3l"><rect x="286.0" y="114.8" width="113.10" height="38.20"/></clipPath>
<g clip-path="url(#c3l)">
<rect x="286.0" y="114.8" width="113.10000000000002" height="38.2" fill="#808092"/>
<path d="M286.0,133 C320,134 345,131 399.1,130 L399.1,153.0 L286.0,153.0 Z" fill="#9e9cb0" filter="url(#b1)"/>
<path d="M290,121 C291,127 296,131 310,131.5 C328,132 340,128.5 360,128.3 C380,128.2 390,128 399,127.5" fill="none" stroke="#2e2628" stroke-width="2" filter="url(#b05)"/>
<path d="M289,124 C290.5,130 297,134 310,134 C324,134 332,132.2 342,131" fill="none" stroke="#d05a6e" stroke-width="1.6" filter="url(#b05)"/>
<path d="M344,130.6 C365,130.4 385,130 399,129.8" fill="none" stroke="#dcd4c4" stroke-width="1" filter="url(#b05)"/>
<rect x="286.0" y="114.8" width="113.10000000000002" height="38.2" filter="url(#noise)" opacity="0.3"/>
<text x="287.6" y="144.0" font-size="7.45" font-weight="bold" fill="#fff" font-family="Liberation Sans, sans-serif">Eptifibatide Treated Blood</text>
<line x1="287.6" y1="146.9" x2="305.6" y2="146.9" stroke="#fff" stroke-width="0.9"/>
<path d="M304.6,145.4 L308.6,146.9 L304.6,148.4 Z" fill="#fff"/>
<line x1="390.6" y1="146.4" x2="395.6" y2="146.4" stroke="#fff" stroke-width="1"/>
</g>
<clipPath id="c3r"><rect x="400.9" y="114.8" width="112.30" height="38.40"/></clipPath>
<g clip-path="url(#c3r)">
<rect x="400.9" y="114.8" width="112.30000000000007" height="38.39999999999999" fill="#88888a"/>
<rect x="397.9" y="111.8" width="118.30000000000007" height="10" fill="#929294" filter="url(#b15)"/>
<path d="M400.9,116 C412,118 418,126 428,133 C440,139 455,137 470,137 C480,137 488,140 495,144 L495,156 L400.9,156 Z" fill="#9a8480" filter="url(#b2)"/>
<path d="M405,119 C410,126 414,134 420,142" stroke="#ae9690" stroke-width="5" fill="none" filter="url(#b15)"/>
<path d="M414,129 C424,133 434,136 445,134 C455,132 459,125 468,124.5 C478,124.5 485,128 492,131 C498,134 503,137 509,141" stroke="#3a3038" stroke-width="3.6" fill="none" filter="url(#b1)"/>
<path d="M432,135 C440,139 452,139 462,136 M470,130 C478,133 486,136 494,139" stroke="#5a4448" stroke-width="2.5" fill="none" filter="url(#b1)"/>
<ellipse cx="444" cy="134" rx="3.5" ry="2.5" fill="#2a2228" filter="url(#b1)"/>
<ellipse cx="468" cy="125.5" rx="7" ry="2.6" fill="#262634" filter="url(#b1)"/>
<ellipse cx="490" cy="130.5" rx="5.5" ry="4.5" fill="#6e2a34" filter="url(#b1)"/>
<ellipse cx="502" cy="135" rx="3.5" ry="3.5" fill="#5a2830" filter="url(#b1)"/>
<ellipse cx="507" cy="140" rx="2.5" ry="2.5" fill="#3a4038" filter="url(#b1)"/>
<rect x="400.9" y="114.8" width="112.30000000000007" height="38.39999999999999" filter="url(#noise)" opacity="0.35"/>
<text x="403.0" y="145.1" font-size="7.45" font-weight="bold" fill="#fff" font-family="Liberation Sans, sans-serif">Eptifibatide Treated Blood</text>
<line x1="403.0" y1="148.6" x2="421.4" y2="148.6" stroke="#fff" stroke-width="0.9"/>
<path d="M420.4,147.1 L424.4,148.6 L420.4,150.1 Z" fill="#fff"/>
<line x1="505.8" y1="148.4" x2="510.8" y2="148.4" stroke="#fff" stroke-width="1"/>
</g>
<line x1="298.5" y1="5.8" x2="298.5" y2="12.399999999999999" stroke="#000" stroke-width="1.4"/>
<path d="M296.1,11.2 L300.9,11.2 L298.5,16.4 Z" fill="#000"/>
<text x="301.8" y="10.9" font-size="9" fill="#111" font-family="Liberation Sans, sans-serif" stroke="#111" stroke-width="0.12">50 mM FeCl<tspan font-size="5.5" dy="2">3</tspan></text>
<line x1="411.9" y1="7.0" x2="411.9" y2="13.2" stroke="#000" stroke-width="1.4"/>
<path d="M409.5,12.0 L414.29999999999995,12.0 L411.9,17.2 Z" fill="#000"/>
<text x="415.0" y="11.4" font-size="9" fill="#111" font-family="Liberation Sans, sans-serif" stroke="#111" stroke-width="0.12">500 mM FeCl<tspan font-size="5.5" dy="2">3</tspan></text>
<line x1="298.8" y1="56.6" x2="298.8" y2="63.3" stroke="#000" stroke-width="1.4"/>
<path d="M296.40000000000003,62.099999999999994 L301.2,62.099999999999994 L298.8,67.3 Z" fill="#000"/>
<text x="302.3" y="62.2" font-size="9" fill="#111" font-family="Liberation Sans, sans-serif" stroke="#111" stroke-width="0.12">50 mM FeCl<tspan font-size="5.5" dy="2">3</tspan></text>
<line x1="411.2" y1="56.5" x2="411.2" y2="63.0" stroke="#000" stroke-width="1.4"/>
<path d="M408.8,61.8 L413.59999999999997,61.8 L411.2,67.0 Z" fill="#000"/>
<text x="414.2" y="61.7" font-size="9" fill="#111" font-family="Liberation Sans, sans-serif" stroke="#111" stroke-width="0.12">500 mM FeCl<tspan font-size="5.5" dy="2">3</tspan></text>
<line x1="299.6" y1="106.4" x2="299.6" y2="113.4" stroke="#000" stroke-width="1.4"/>
<path d="M297.20000000000005,112.2 L302.0,112.2 L299.6,117.4 Z" fill="#000"/>
<text x="302.7" y="111.6" font-size="9" fill="#111" font-family="Liberation Sans, sans-serif" stroke="#111" stroke-width="0.12">50 mM FeCl<tspan font-size="5.5" dy="2">3</tspan></text>
<line x1="416.5" y1="106.4" x2="416.5" y2="113.7" stroke="#000" stroke-width="1.4"/>
<path d="M414.1,112.5 L418.9,112.5 L416.5,117.7 Z" fill="#000"/>
<text x="418.1" y="111.6" font-size="9" fill="#111" font-family="Liberation Sans, sans-serif" stroke="#111" stroke-width="0.12">500 mM FeCl<tspan font-size="5.5" dy="2">3</tspan></text>
<text x="290" y="162.6" font-size="8.5" font-family="Liberation Sans, sans-serif"><tspan fill="#5aa86a">Platelets</tspan><tspan fill="#222">/ </tspan><tspan fill="#c0404a">Fibrinogen</tspan><tspan fill="#222">/ </tspan><tspan fill="#3c3c8c">Nuclei</tspan></text>
<text x="271.6" y="179.6" font-size="11.5" font-weight="bold" font-family="Liberation Sans, sans-serif">D</text>
<text transform="translate(279.0,228.2) rotate(-90)" text-anchor="middle" font-size="8" fill="#1a1a1a" font-family="Liberation Sans, sans-serif" stroke="#1a1a1a" stroke-width="0.12">Percent Channel with</text>
<text transform="translate(288.8,227.4) rotate(-90)" text-anchor="middle" font-size="8" fill="#1a1a1a" font-family="Liberation Sans, sans-serif" stroke="#1a1a1a" stroke-width="0.12">Aggregates</text>
<line x1="298.3" y1="174.6" x2="298.3" y2="266.4" stroke="#444" stroke-width="0.6"/>
<line x1="296.5" y1="266.40" x2="298.3" y2="266.40" stroke="#444" stroke-width="0.5"/>
<text x="295.5" y="267.80" text-anchor="end" font-size="4.2" fill="#444" font-family="Liberation Sans, sans-serif" stroke="#444" stroke-width="0.12">0</text>
<line x1="297.3" y1="257.22" x2="298.3" y2="257.22" stroke="#555" stroke-width="0.4"/>
<line x1="296.5" y1="248.04" x2="298.3" y2="248.04" stroke="#444" stroke-width="0.5"/>
<text x="295.5" y="249.44" text-anchor="end" font-size="4.2" fill="#444" font-family="Liberation Sans, sans-serif" stroke="#444" stroke-width="0.12">20</text>
<line x1="297.3" y1="238.86" x2="298.3" y2="238.86" stroke="#555" stroke-width="0.4"/>
<line x1="296.5" y1="229.68" x2="298.3" y2="229.68" stroke="#444" stroke-width="0.5"/>
<text x="295.5" y="231.08" text-anchor="end" font-size="4.2" fill="#444" font-family="Liberation Sans, sans-serif" stroke="#444" stroke-width="0.12">40</text>
<line x1="297.3" y1="220.50" x2="298.3" y2="220.50" stroke="#555" stroke-width="0.4"/>
<line x1="296.5" y1="211.32" x2="298.3" y2="211.32" stroke="#444" stroke-width="0.5"/>
<text x="295.5" y="212.72" text-anchor="end" font-size="4.2" fill="#444" font-family="Liberation Sans, sans-serif" stroke="#444" stroke-width="0.12">60</text>
<line x1="297.3" y1="202.14" x2="298.3" y2="202.14" stroke="#555" stroke-width="0.4"/>
<line x1="296.5" y1="192.96" x2="298.3" y2="192.96" stroke="#444" stroke-width="0.5"/>
<text x="295.5" y="194.36" text-anchor="end" font-size="4.2" fill="#444" font-family="Liberation Sans, sans-serif" stroke="#444" stroke-width="0.12">80</text>
<line x1="297.3" y1="183.78" x2="298.3" y2="183.78" stroke="#555" stroke-width="0.4"/>
<line x1="296.5" y1="174.60" x2="298.3" y2="174.60" stroke="#444" stroke-width="0.5"/>
<text x="295.5" y="176.00" text-anchor="end" font-size="4.2" fill="#444" font-family="Liberation Sans, sans-serif" stroke="#444" stroke-width="0.12">100</text>
<line x1="312.60" y1="200.03" x2="312.60" y2="201.22" stroke="#aaa" stroke-width="0.5"/>
<line x1="311.10" y1="200.03" x2="314.10" y2="200.03" stroke="#aaa" stroke-width="0.5"/>
<rect x="300.8" y="201.22" width="23.6" height="65.18" fill="#8a8a8a" stroke="#333" stroke-width="0.3"/>
<line x1="341.80" y1="204.89" x2="341.80" y2="212.24" stroke="#aaa" stroke-width="0.5"/>
<line x1="340.30" y1="204.89" x2="343.30" y2="204.89" stroke="#aaa" stroke-width="0.5"/>
<rect x="330.0" y="212.24" width="23.6" height="54.16" fill="#111" stroke="#333" stroke-width="0.3"/>
<circle cx="341.80" cy="199.6" r="1.3" fill="#111"/>
<line x1="370.40" y1="184.97" x2="370.40" y2="188.37" stroke="#aaa" stroke-width="0.5"/>
<line x1="368.90" y1="184.97" x2="371.90" y2="184.97" stroke="#aaa" stroke-width="0.5"/>
<rect x="358.6" y="188.37" width="23.6" height="78.03" fill="#8a8a8a" stroke="#333" stroke-width="0.3"/>
<line x1="399.10" y1="206.73" x2="399.10" y2="225.09" stroke="#aaa" stroke-width="0.5"/>
<line x1="397.60" y1="206.73" x2="400.60" y2="206.73" stroke="#aaa" stroke-width="0.5"/>
<rect x="387.3" y="225.09" width="23.6" height="41.31" fill="#111" stroke="#333" stroke-width="0.3"/>
<circle cx="399.10" cy="202.6" r="1.3" fill="#111"/>
<rect x="298.3" y="266.4" width="114.90" height="5.80" fill="#fff" stroke="#555" stroke-width="0.5"/>
<rect x="298.3" y="272.2" width="114.90" height="7.00" fill="#fff" stroke="#555" stroke-width="0.5"/>
<line x1="327.2" y1="266.4" x2="327.2" y2="272.2" stroke="#555" stroke-width="0.5"/>
<line x1="355.9" y1="266.4" x2="355.9" y2="279.2" stroke="#555" stroke-width="0.5"/>
<line x1="384.6" y1="266.4" x2="384.6" y2="272.2" stroke="#555" stroke-width="0.5"/>
<text x="311.2" y="271.4" text-anchor="middle" font-size="5.1" fill="#1e1e1e" font-family="Liberation Sans, sans-serif" stroke="#1e1e1e" stroke-width="0.12">WT</text>
<text x="341.0" y="271.4" text-anchor="middle" font-size="5.3" fill="#1e1e1e" font-family="Liberation Sans, sans-serif" stroke="#1e1e1e" stroke-width="0.12">IL4-R/Iba</text>
<text x="370.0" y="271.4" text-anchor="middle" font-size="5.1" fill="#1e1e1e" font-family="Liberation Sans, sans-serif" stroke="#1e1e1e" stroke-width="0.12">WT</text>
<text x="398.8" y="271.4" text-anchor="middle" font-size="5.3" fill="#1e1e1e" font-family="Liberation Sans, sans-serif" stroke="#1e1e1e" stroke-width="0.12">IL4-R/Iba</text>
<text x="327.2" y="277.9" text-anchor="middle" font-size="6.2" fill="#1e1e1e" font-family="Liberation Sans, sans-serif" stroke="#1e1e1e" stroke-width="0.12">Bare</text>
<text x="385.5" y="277.9" text-anchor="middle" font-size="6.2" fill="#1e1e1e" font-family="Liberation Sans, sans-serif" stroke="#1e1e1e" stroke-width="0.12">Endothelialized</text>
<rect x="384.4" y="171" width="8.3" height="6.1" fill="#111"/>
<rect x="384.4" y="182.3" width="8.3" height="6.7" fill="#8a8a8a" stroke="#666" stroke-width="0.3"/>
<text x="395.2" y="174.5" font-size="4.8" fill="#111" font-family="Liberation Sans, sans-serif" stroke="#111" stroke-width="0.12">50 mM FeCl<tspan font-size="3.3" dy="0.8">3</tspan><tspan dy="-0.8">,</tspan></text>
<text x="395.2" y="180" font-size="4.8" fill="#111" font-family="Liberation Sans, sans-serif" stroke="#111" stroke-width="0.12">Patent</text>
<text x="395.2" y="186.3" font-size="4.8" fill="#111" font-family="Liberation Sans, sans-serif" stroke="#111" stroke-width="0.12">50 mM FeCl<tspan font-size="3.3" dy="0.8">3</tspan><tspan dy="-0.8">,</tspan></text>
<text x="395.2" y="191.3" font-size="4.8" fill="#111" font-family="Liberation Sans, sans-serif" stroke="#111" stroke-width="0.12">Flow Cessation</text>
<clipPath id="d1"><rect x="430.0" y="183.8" width="90.00" height="32.60"/></clipPath>
<g clip-path="url(#d1)">
<rect x="430.0" y="183.8" width="90.0" height="32.599999999999994" fill="#8e8e8e"/>
<rect x="426.0" y="180.8" width="98.0" height="9" fill="#c6c6c6" filter="url(#b1)"/>
<path d="M426,178 L436,178 C440,184 446,187 452,189 C460,191 466,192 472,193 C476,195 478,197 478,200 L426,200 Z" fill="#2a2a2a" filter="url(#b15)"/>
<path d="M506,178 L524,178 L524,195 L507,195 Z" fill="#303030" filter="url(#b15)"/>
<path d="M455,190 C462,191 468,193 474,196 C470,192 464,190 455,190 Z" fill="#6a6a6a" filter="url(#b1)"/>
<path d="M481,192 C490,189 500,187 510,186 L522,186 L522,218 L479,218 C477,210 477,200 481,192 Z" fill="#2a2a2a" filter="url(#b15)"/>
<ellipse cx="498" cy="194" rx="7" ry="4" fill="#a0a0a0" filter="url(#b15)"/>
<ellipse cx="488" cy="205" rx="6" ry="2.5" fill="#5a5a5a" filter="url(#b1)"/>
<rect x="430.0" y="199" width="47.5" height="14" fill="#ababab" filter="url(#b05)"/>
<rect x="430.0" y="213" width="50" height="4" fill="#bcbcbc" filter="url(#b05)"/>
<path d="M478,203 C483,208 488,213 492,217 L480,217 L478,213 Z" fill="#a0a0a0" filter="url(#b1)"/>
<rect x="492" y="213.5" width="14" height="3" fill="#9a9a9a" filter="url(#b05)"/>
<rect x="430.0" y="183.8" width="0.8" height="32.599999999999994" fill="#333"/>
<rect x="430.0" y="183.8" width="90.0" height="32.599999999999994" filter="url(#noise)" opacity="0.25"/>
<text x="431.6" y="209.4" font-size="9.4" fill="#111" font-family="Liberation Sans, sans-serif" stroke="#111" stroke-width="0.12">WT blood</text>
<line x1="432" y1="212.2" x2="453" y2="212.2" stroke="#111" stroke-width="0.9"/>
<path d="M452,210.7 L456,212.2 L452,213.7 Z" fill="#111"/>
</g>
<ellipse cx="440" cy="181.5" rx="9" ry="2" fill="#e0e0e0" filter="url(#b1)"/>
<ellipse cx="469" cy="181" rx="9" ry="2.2" fill="#d8d8d8" filter="url(#b1)"/>
<ellipse cx="510" cy="181.5" rx="6" ry="2" fill="#e0e0e0" filter="url(#b1)"/>
<clipPath id="d2"><rect x="430.0" y="226.0" width="90.00" height="42.30"/></clipPath>
<g clip-path="url(#d2)">
<rect x="430.0" y="226.0" width="90.0" height="42.30000000000001" fill="#8a8a8a"/>
<rect x="426.0" y="223.0" width="98.0" height="9.2" fill="#c6c6c6" filter="url(#b07)"/>
<rect x="430.0" y="226.0" width="90.0" height="0.7" fill="#888"/>
<rect x="426.0" y="232.5" width="98.0" height="7" fill="#adadad" filter="url(#b07)"/>
<path d="M428,234 C436,232 444,234 450,237 C454,240 455,246 455,252 L455,258 L428,258 Z" fill="#404040" filter="url(#b1)"/>
<ellipse cx="466.5" cy="249" rx="12.5" ry="12" fill="#b8b8b8"/>
<ellipse cx="495" cy="248.5" rx="13" ry="12" fill="#bababa"/>
<ellipse cx="466.5" cy="249" rx="11" ry="11" fill="none" stroke="#8a8a8a" stroke-width="2.5" filter="url(#b1)"/>
<ellipse cx="495" cy="248.5" rx="11.5" ry="11" fill="none" stroke="#8a8a8a" stroke-width="2.5" filter="url(#b1)"/>
<path d="M455,252 C453,244 457,237 466.5,236.5 C475,236.5 479.5,243 479.5,251" fill="none" stroke="#363636" stroke-width="3.2" filter="url(#b07)"/>
<path d="M482,251 C481,243 486,236.5 495,236.5 C503,236.5 508,242 508,250" fill="none" stroke="#363636" stroke-width="3.2" filter="url(#b07)"/>
<ellipse cx="480.7" cy="251" rx="2.2" ry="6" fill="#444" filter="url(#b07)"/>
<ellipse cx="466" cy="253" rx="10" ry="3" fill="#8e8e8e" filter="url(#b15)"/>
<ellipse cx="494" cy="253" rx="10" ry="3" fill="#8e8e8e" filter="url(#b15)"/>
<path d="M507,239 C512,237 517,238 522,240 L522,270 L504,270 C502,262 504,250 507,239 Z" fill="#363636" filter="url(#b1)"/>
<ellipse cx="510" cy="259" rx="5" ry="6" fill="#222" filter="url(#b1)"/>
<rect x="426.0" y="255.5" width="77" height="8.5" fill="#acacac" filter="url(#b07)"/>
<rect x="426.0" y="263.8" width="98.0" height="6" fill="#c4c4c4" filter="url(#b05)"/>
<rect x="430.0" y="226.0" width="90.0" height="42.30000000000001" filter="url(#noise)" opacity="0.3"/>
<text x="432.3" y="261.2" font-size="9.4" fill="#111" font-family="Liberation Sans, sans-serif" stroke="#111" stroke-width="0.12">IL4-R/ Iba blood</text>
<line x1="432" y1="264.3" x2="453" y2="264.3" stroke="#111" stroke-width="0.9"/>
<path d="M452,262.8 L456,264.3 L452,265.8 Z" fill="#111"/>
</g>
</svg></div></body></html>
